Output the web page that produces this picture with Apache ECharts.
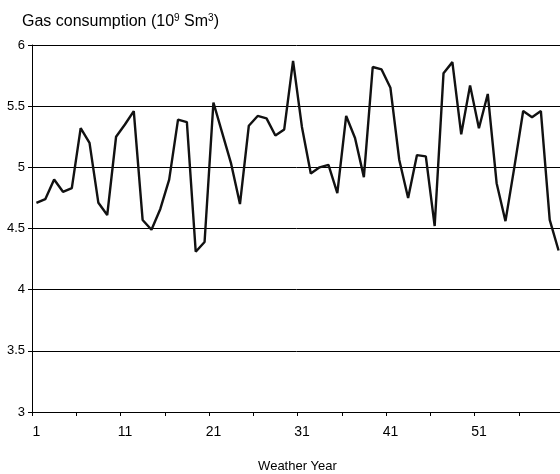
<!DOCTYPE html>
<html>
<head>
<meta charset="utf-8">
<script src="https://cdn.jsdelivr.net/npm/echarts@6/dist/echarts.min.js"></script>
<style>html,body{margin:0;padding:0;background:#fff}#c{width:560px;height:474px}</style>
</head>
<body>
<div id="c"></div>
<script>
var years = ['1','2','3','4','5','6','7','8','9','10','11','12','13','14','15','16','17','18','19','20',
  '21','22','23','24','25','26','27','28','29','30','31','32','33','34','35','36','37','38','39','40',
  '41','42','43','44','45','46','47','48','49','50','51','52','53','54','55','56','57','58','59','60'];
var consumption = [4.71,4.74,4.90,4.80,4.83,5.32,5.20,4.71,4.61,5.25,
  5.35,5.46,4.57,4.49,4.66,4.90,5.39,5.37,4.31,4.39,
  5.53,5.28,5.03,4.70,5.34,5.42,5.40,5.26,5.31,5.87,
  5.33,4.95,5.00,5.02,4.79,5.42,5.24,4.92,5.82,5.80,
  5.65,5.06,4.75,5.10,5.09,4.52,5.77,5.86,5.27,5.67,
  5.32,5.60,4.87,4.56,5.00,5.46,5.41,5.46,4.57,4.32];
var yMin = 3, yMax = 6, yStep = 0.5;

var font = 'Liberation Sans, Arial, sans-serif';
var chart = echarts.init(document.getElementById('c'), null, {renderer: 'canvas'});
chart.setOption({
  animation: false,
  backgroundColor: '#ffffff',
  title: {
    left: 17, top: 8,
    text: '{a|Gas consumption (10}{s|9}{a| Sm}{s|3}{a|)}',
    textStyle: {
      fontFamily: font, color: '#000', fontWeight: 'normal',
      rich: {
        a: {fontSize: 16, lineHeight: 18, fontFamily: font, color: '#000', fontWeight: 'normal'},
        s: {fontSize: 10, lineHeight: 11, verticalAlign: 'top', fontFamily: font, color: '#000', fontWeight: 'normal'}
      }
    }
  },
  grid: {left: 32, top: 45, width: 531, height: 367, containLabel: false, outerBoundsMode: 'none'},
  xAxis: {
    type: 'category',
    data: years,
    boundaryGap: true,
    name: 'Weather Year',
    nameLocation: 'middle',
    nameGap: 48,
    nameTextStyle: {fontFamily: font, fontSize: 13, color: '#000'},
    axisLine: {show: true, lineStyle: {color: '#000', width: 1}},
    axisTick: {show: true, interval: 4, length: 4, lineStyle: {color: '#000'}},
    axisLabel: {interval: 9, margin: 13, fontFamily: font, fontSize: 14, color: '#000'},
    splitLine: {show: false}
  },
  yAxis: {
    type: 'value',
    min: yMin, max: yMax, interval: yStep,
    axisLine: {show: true, lineStyle: {color: '#000', width: 1}},
    axisTick: {show: true, length: 4, lineStyle: {color: '#000'}},
    axisLabel: {margin: 7, fontFamily: font, fontSize: 13, color: '#000'},
    splitLine: {show: true, lineStyle: {color: '#000', width: 1}}
  },
  series: [{
    type: 'line',
    data: consumption,
    symbol: 'none',
    lineStyle: {color: '#111', width: 2.4},
    clip: false
  }]
});
</script>
</body>
</html>
